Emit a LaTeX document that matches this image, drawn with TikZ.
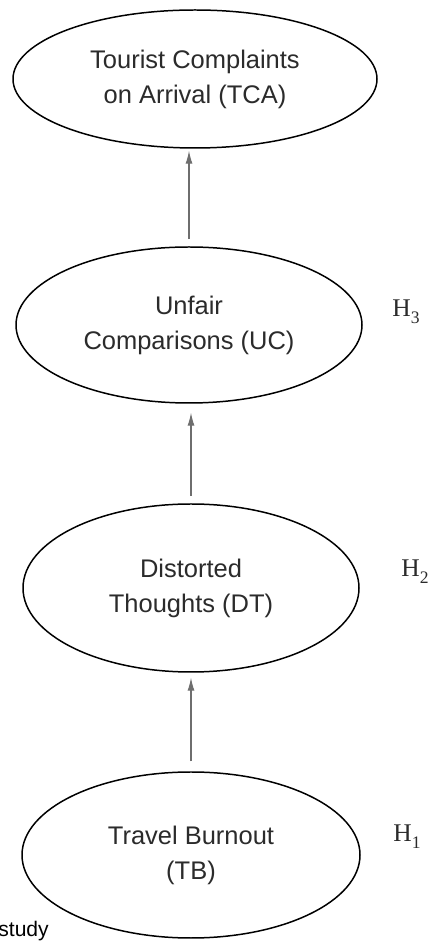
\documentclass[tikz,border=0pt]{standalone}
\usepackage{fontspec}
\setmainfont{Liberation Sans}
\newfontfamily\hfont{Liberation Serif}
\usetikzlibrary{shapes.geometric,arrows.meta}

\begin{document}
\begin{tikzpicture}

% Colori
\definecolor{textDark}{HTML}{2B2B2B}
\definecolor{lineGray}{HTML}{6E6E6E}

% Stili
\tikzset{
  costrutto/.style={ellipse, draw=black, line width=0.85pt, inner sep=0pt,
    align=center, text=textDark, font=\fontsize{14.5}{20}\selectfont},
  freccia/.style={lineGray, line width=0.6pt, -{Latex[length=2.6mm,width=1.4mm]}},
  ipotesi/.style={anchor=base west, inner sep=0pt, text=textDark,
    font=\hfont\fontsize{14.5}{16}\selectfont}
}

% Margini
\useasboundingbox (0,0) rectangle (8.62,18.84);

% Ellissi
\node[costrutto, minimum width=7.28cm, minimum height=2.76cm] (tca) at (3.90,17.26)
  {Tourist Complaints\\on Arrival (TCA)};
\node[costrutto, minimum width=6.92cm, minimum height=3.12cm] (uc) at (3.78,12.34)
  {Unfair\\Comparisons (UC)};
\node[costrutto, minimum width=6.72cm, minimum height=3.36cm] (dt) at (3.82,7.08)
  {Distorted\\Thoughts (DT)};
\node[costrutto, minimum width=6.76cm, minimum height=3.32cm] (tb) at (3.82,1.74)
  {Travel Burnout\\(TB)};

% Frecce
\draw[freccia, shorten <=0.2cm, shorten >=0.1cm] (tb.north) -- (tb.north |- dt.south);
\draw[freccia, shorten <=0.14cm, shorten >=0.18cm] (dt.north) -- (dt.north |- uc.south);
\draw[freccia, shorten <=0.14cm, shorten >=0.04cm] (uc.north) -- (uc.north |- tca.south);

% Etichette ipotesi
\node[ipotesi] (h3) at (7.84,12.50) {H\raisebox{-0.55ex}{\fontsize{10}{10}\selectfont 3}};
\node[ipotesi] (h2) at (8.02,7.30) {H\raisebox{-0.55ex}{\fontsize{10}{10}\selectfont 2}};
\node[ipotesi] (h1) at (7.86,2.00) {H\raisebox{-0.55ex}{\fontsize{10}{10}\selectfont 1}};

% Testo tagliato in basso
\node[anchor=base west, inner sep=0pt, text=black, font=\fontsize{12}{14}\selectfont]
  (nota) at (-0.04,0.12) {study};

\end{tikzpicture}
\end{document}
